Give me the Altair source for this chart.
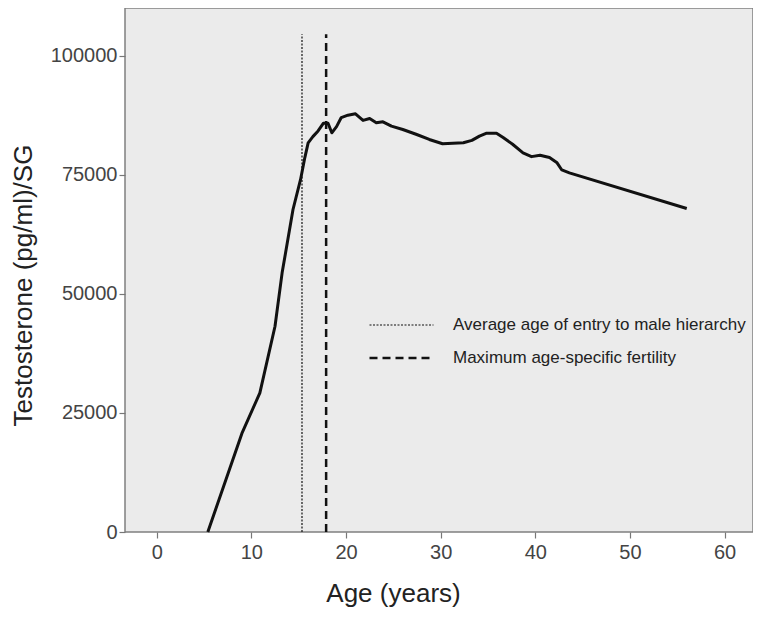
import altair as alt
import pandas as pd

# Smoothed testosterone curve
age = [5.4, 9.0, 10.9, 12.5, 13.25, 14.4, 15.2, 15.65, 16.0, 16.5,
       17.05, 17.6, 18.1, 18.5, 19.0, 19.5, 20.2, 21.0, 21.8, 22.5,
       23.2, 23.9, 24.8, 26.0, 27.4, 28.8, 30.2, 32.4, 33.3, 34.1,
       34.8, 35.9, 36.6, 37.6, 38.7, 39.6, 40.5, 41.5, 42.3, 42.8,
       43.6, 56.0]
testosterone = [0, 20700, 29200, 43200, 54400, 67700, 74000, 78600, 81700, 83000,
                84200, 85800, 85800, 83800, 85100, 87000, 87500, 87800, 86400, 86800,
                85900, 86100, 85200, 84500, 83500, 82400, 81500, 81700, 82200, 83100,
                83700, 83700, 82800, 81400, 79600, 78800, 79100, 78600, 77500, 76000,
                75400, 67900]

# Reference lines
ref_labels = ["Average age of entry to male hierarchy", "Maximum age-specific fertility"]
ref_ages = [15.35, 17.9]
ref_bottom = [0, 0]
ref_top = [104500, 104500]

x_ticks = [0, 10, 20, 30, 40, 50, 60]
y_ticks = [0, 25000, 50000, 75000, 100000]

line_df = pd.DataFrame({"age": age, "t": testosterone})
ref_df = pd.DataFrame({"label": ref_labels, "age": ref_ages, "y0": ref_bottom, "y1": ref_top})

FONT = "Liberation Sans"
x_scale = alt.Scale(domain=[-3.35, 63], nice=False, zero=False)
y_scale = alt.Scale(domain=[0, 110000], nice=False, zero=False)

x_axis = alt.Axis(values=x_ticks, format="d", title="Age (years)", grid=False, domain=False,
                  tickColor="#777777", tickSize=6, tickWidth=1.2,
                  labelFontSize=20, labelColor="#444444", labelFont=FONT, labelPadding=4,
                  titleFontSize=26, titleFontWeight="normal", titleColor="#222222", titleFont=FONT,
                  titleX=268, titleY=69, titleAlign="center", titleBaseline="alphabetic")
y_axis = alt.Axis(values=y_ticks, format="d", title="Testosterone (pg/ml)/SG", grid=False, domain=False,
                  tickColor="#777777", tickSize=6, tickWidth=1.2,
                  labelFontSize=20, labelColor="#444444", labelFont=FONT, labelPadding=2,
                  titleFontSize=26, titleFontWeight="normal", titleColor="#222222", titleFont=FONT,
                  titleX=-102, titleY=277, titleAngle=270, titleAlign="center", titleBaseline="middle")

line = alt.Chart(line_df).mark_line(color="#111111", strokeWidth=3, strokeJoin="round").encode(
    x=alt.X("age:Q", scale=x_scale, axis=x_axis),
    y=alt.Y("t:Q", scale=y_scale, axis=y_axis),
)

rules = alt.Chart(ref_df).mark_rule(color="#111111").encode(
    x=alt.X("age:Q", scale=x_scale, axis=x_axis),
    y=alt.Y("y0:Q", scale=y_scale, axis=y_axis),
    y2="y1:Q",
    strokeDash=alt.StrokeDash(
        "label:N",
        scale=alt.Scale(domain=ref_labels, range=[[2, 1.5], [8, 5]]),
        legend=alt.Legend(title=None, orient="none", legendX=243, legendY=307,
                          symbolType="stroke", symbolSize=4096, clipHeight=20, rowPadding=13,
                          labelFontSize=17, labelColor="#222222", labelFont=FONT, labelOffset=18,
                          labelLimit=400, symbolStrokeColor="#111111",
                          symbolStrokeWidth={"expr": "datum.value == 'Maximum age-specific fertility' ? 2.5 : 1.2"}),
    ),
    strokeWidth=alt.StrokeWidth("label:N", scale=alt.Scale(domain=ref_labels, range=[1.2, 2.5]), legend=None),
)

chart = alt.layer(rules, line).properties(
    width=628, height=524,
    padding={"left": 117, "top": 0, "right": 0, "bottom": 77},
    autosize=alt.AutoSizeParams(type="none"),
    background="white",
).configure_view(
    fill="#ebebeb", stroke="#808080", strokeWidth=1.5
)

chart.save("out.html", embed_options={"renderer": "svg", "actions": False})
